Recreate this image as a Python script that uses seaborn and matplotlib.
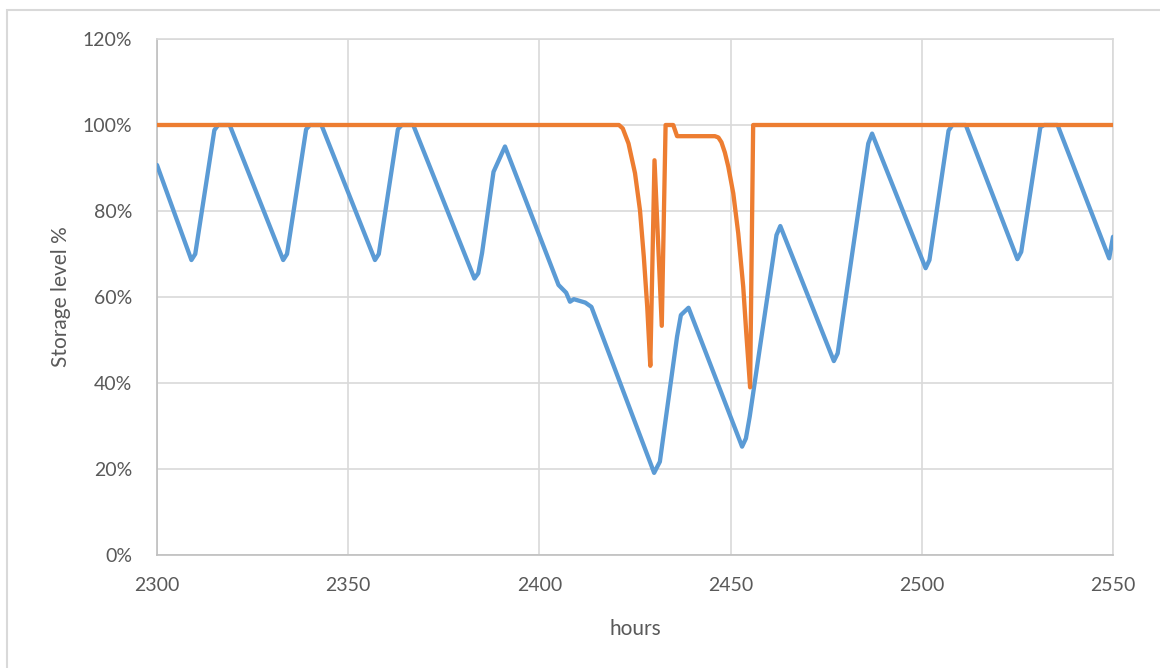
import matplotlib
matplotlib.use("Agg")
import matplotlib.pyplot as plt
from matplotlib.patches import Rectangle
from matplotlib.ticker import PercentFormatter
import seaborn as sns

# Storage level of the first store (hour, %)
store_a_hours = [2300, 2309, 2310, 2315, 2316, 2319,
                 2333, 2334, 2339, 2340, 2343,
                 2357, 2358, 2363, 2364, 2367,
                 2383, 2384, 2385, 2388, 2391,
                 2405, 2407, 2408, 2409, 2412, 2413.6,
                 2430, 2431.5, 2436, 2437, 2439,
                 2453, 2454, 2455, 2462, 2463,
                 2477, 2478, 2486, 2487,
                 2501, 2502, 2507, 2508, 2511.5,
                 2525, 2526, 2531, 2532, 2535.5,
                 2549, 2550]
store_a_level = [90.7, 68.6, 70.0, 98.8, 100, 100,
                 68.6, 70.0, 99.0, 100, 100,
                 68.6, 70.0, 99.0, 100, 100,
                 64.3, 65.5, 70.2, 89.1, 95.0,
                 62.8, 61.0, 58.9, 59.5, 58.7, 57.7,
                 19.1, 21.7, 50.8, 55.8, 57.5,
                 25.2, 27.1, 32.2, 74.4, 76.5,
                 45.1, 46.9, 95.7, 98.0,
                 66.7, 68.6, 98.7, 100, 100,
                 68.8, 70.5, 99.5, 100, 100,
                 69.0, 74.0]

# Storage level of the second store (hour, %)
store_b_hours = [2300, 2420.8, 2421.8, 2423.3, 2425.0, 2426.3, 2427.3, 2428.2, 2429.0,
                 2430.1, 2432.0, 2433.0, 2435.0, 2436.0, 2445.9,
                 2446.8, 2447.6, 2448.5, 2449.4, 2450.7, 2452.0, 2453.3, 2454.1, 2455.1,
                 2455.9, 2550]
store_b_level = [100, 100, 99.2, 95.7, 88.8, 80.2, 69.4, 57.7, 44.0,
                 91.8, 53.3, 100, 100, 97.4, 97.4,
                 97.1, 96.0, 93.6, 90.3, 84.1, 74.8, 62.4, 51.6, 39.0,
                 100, 100]

x_ticks = [2300, 2350, 2400, 2450, 2500, 2550]
y_ticks = [0, 20, 40, 60, 80, 100, 120]

sns.set_theme(style="white")
plt.rcParams["font.family"] = ["Lato", "DejaVu Sans"]

grid_c = "#D9D9D9"
axis_c = "#BFBFBF"
text_c = "#595959"

fig = plt.figure(figsize=(11.6, 6.68), dpi=100)
ax = fig.add_axes([157 / 1160, 1 - 555 / 668, (1113 - 157) / 1160, (555 - 39) / 668])

sns.lineplot(x=store_a_hours, y=store_a_level, ax=ax, color="#5B9BD5",
             linewidth=3.1, solid_joinstyle="round", zorder=3)
sns.lineplot(x=store_b_hours, y=store_b_level, ax=ax, color="#ED7D31",
             linewidth=3.1, solid_joinstyle="round", zorder=4)

ax.set_xlim(x_ticks[0], x_ticks[-1])
ax.set_ylim(y_ticks[0], y_ticks[-1])
ax.set_xticks(x_ticks)
ax.set_yticks(y_ticks)
ax.yaxis.set_major_formatter(PercentFormatter(decimals=0))
ax.grid(True, color=grid_c, linewidth=1.2, zorder=0)
ax.set_axisbelow(True)

for side in ("top", "right"):
    ax.spines[side].set_color(grid_c)
    ax.spines[side].set_linewidth(1.2)
for side in ("left", "bottom"):
    ax.spines[side].set_color(axis_c)
    ax.spines[side].set_linewidth(1.2)

ax.tick_params(axis="both", length=0, labelsize=14, labelcolor=text_c)
ax.tick_params(axis="y", pad=18)
ax.tick_params(axis="x", pad=16)

ax.set_xlabel("hours", fontsize=15, color=text_c, labelpad=18)
ax.set_ylabel("Storage level %", fontsize=15, color=text_c, labelpad=8)

# chart area frame
fig.patches.append(Rectangle((7 / 1160, -0.2), 1.2, (668 - 10) / 668 + 0.2,
                             transform=fig.transFigure, fill=False,
                             edgecolor=grid_c, linewidth=1.5))

fig.savefig("out.png", dpi=100, facecolor="white")
